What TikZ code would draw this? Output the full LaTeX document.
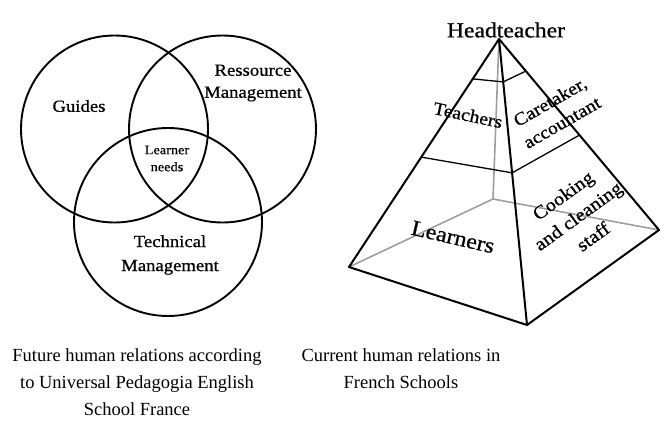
\documentclass[tikz,border=0pt]{standalone}
\usepackage{fontspec}
\setmainfont{Liberation Serif}
\newfontfamily\labfont[FakeStretch=1.1,FakeBold=0.8]{Liberation Serif}
\usetikzlibrary{calc}
\tikzset{
  ring/.style={line width=1.9pt, black},
  lab/.style={font=\labfont\fontsize{17}{22}\selectfont, align=center, inner sep=0pt},
  edge/.style={line width=2pt, black, line join=round},
  level/.style={line width=1.3pt, black},
  hidden/.style={line width=1.6pt, black!38},
  captxt/.style={font=\fontsize{18.5}{27}\selectfont, align=center, inner sep=0pt}
}
\begin{document}
\begin{tikzpicture}[x=1pt,y=-1pt]
\useasboundingbox (0,0) rectangle (667,434);
% Venn diagram
\draw[ring] (114.5,129) circle[radius=93.5];
\draw[ring] (222.5,129) circle[radius=93.5];
\draw[ring] (168,222) circle[radius=94];
\node[lab] (guides) at (79,106) {Guides};
\node[lab] (ress) at (253,83) {Ressource\\Management};
\node[lab, font=\labfont\fontsize{13}{17}\selectfont] (needs) at (167,158.5) {Learner\\needs};
\node[lab, font=\labfont\fontsize{17}{24}\selectfont] (tech) at (170,255) {Technical\\Management};
% Pyramid
\coordinate (A) at (499,39);
\coordinate (L) at (349,267);
\coordinate (F) at (527,325);
\coordinate (R) at (659,230);
\coordinate (B) at (493,199);
\draw[hidden] (L) -- (B) -- (R);
\draw[hidden] (B) -- (A);
\coordinate (L1) at ($(A)!0.175!(L)$);
\coordinate (F1) at ($(A)!0.15!(F)$);
\coordinate (R1) at ($(A)!0.168!(R)$);
\coordinate (L2) at ($(A)!0.518!(L)$);
\coordinate (F2) at ($(A)!0.468!(F)$);
\coordinate (R2) at ($(A)!0.503!(R)$);
\draw[level] (L1) -- (F1) -- (R1);
\draw[level] (L2) -- (F2) -- (R2);
\draw[edge] (A) -- (L) -- (F) -- (R) -- cycle;
\draw[edge] (A) -- (F);
\node[lab, font=\labfont\fontsize{21.5}{26}\selectfont] (head) at (506,30) {Headteacher};
\node[lab, font=\labfont\fontsize{18}{24}\selectfont, rotate=-12] (teach) at (468,115) {Teachers};
\node[lab, font=\labfont\fontsize{18}{24}\selectfont, rotate=30] (care) at (556,112) {Caretaker,\\accountant};
\node[lab, font=\labfont\fontsize{18.5}{25.5}\selectfont, rotate=36] (cook) at (578,216) {Cooking\\and cleaning\\staff};
\node[lab, font=\labfont\fontsize{22}{26}\selectfont, rotate=-13] (learn) at (453,237) {Learners};
% Captions
\node[captxt] (capl) at (137,382) {Future human relations according\\to Universal Pedagogia English\\School France};
\node[captxt] (capr) at (401,368.5) {Current human relations in\\French Schools};
\end{tikzpicture}
\end{document}
